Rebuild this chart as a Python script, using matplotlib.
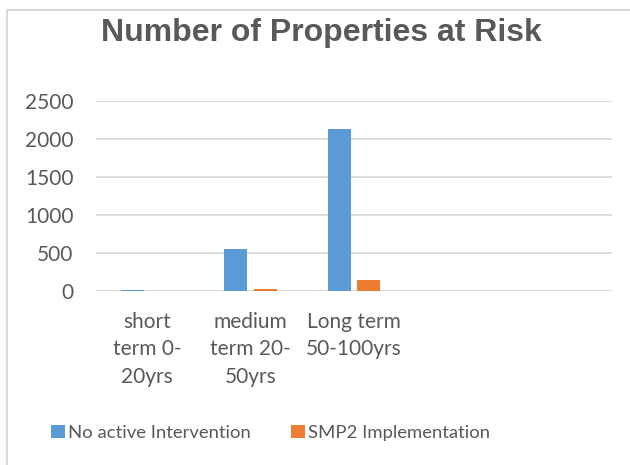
import numpy as np
import matplotlib.pyplot as plt
from matplotlib.lines import Line2D

# データ
categories = ["short\nterm 0-\n20yrs", "medium\nterm 20-\n50yrs", "Long term\n50-100yrs", "", ""]
no_intervention = [10, 555, 2125, 0, 0]
smp2 = [0, 28, 140, 0, 0]
yticks = [0, 500, 1000, 1500, 2000, 2500]

text_color = '#595959'
grid_color = '#d9d9d9'
body_font = ['Lato', 'DejaVu Sans']

fig = plt.figure(figsize=(6.3, 4.65), dpi=100)
ax = fig.add_axes([0.152, 0.374, 0.819, 0.409])

x = np.arange(len(categories))
w = 0.222
ax.bar(x - 0.1415, no_intervention, width=w, color='#5B9BD5', label='No active Intervention', zorder=3)
ax.bar(x + 0.1415, smp2, width=w, color='#ED7D31', label='SMP2 Implementation', zorder=3)

ax.set_xlim(-0.5, len(categories) - 0.5)
ax.set_ylim(0, 2500)
ax.set_yticks(yticks)
ax.set_yticklabels([str(v) for v in yticks], family=body_font, fontsize=15, color=text_color)
ax.set_xticks(x)
ax.set_xticklabels(categories, family=body_font, fontsize=15, color=text_color, linespacing=1.46)
ax.tick_params(axis='y', length=0, pad=16)
ax.tick_params(axis='x', length=0, pad=15)

# 目盛線
ax.grid(axis='y', color=grid_color, linewidth=1.3, zorder=0)
for s in ax.spines.values():
    s.set_visible(False)
ax.axhline(0, color=grid_color, linewidth=1.3, zorder=2)

# タイトル
fig.text(0.51, 0.929, 'Number of Properties at Risk', ha='center', va='center',
         family=['Liberation Sans', 'DejaVu Sans'], fontweight='bold', fontsize=23, color=text_color)

# 凡例
leg = fig.legend(loc='center', bbox_to_anchor=(0.429, 0.069), ncol=2, frameon=False,
                 prop={'family': body_font, 'size': 13.3}, handlelength=0.75, handleheight=0.75,
                 handletextpad=0.15, columnspacing=2.2)
for t in leg.get_texts():
    t.set_color(text_color)

# グラフ枠
fig.add_artist(Line2D([7 / 630, 7 / 630], [0, 1 - 10 / 465], transform=fig.transFigure, color=grid_color, linewidth=1.5))
fig.add_artist(Line2D([7 / 630, 1], [1 - 10 / 465, 1 - 10 / 465], transform=fig.transFigure, color=grid_color, linewidth=1.5))

fig.savefig('out.png', dpi=100)
